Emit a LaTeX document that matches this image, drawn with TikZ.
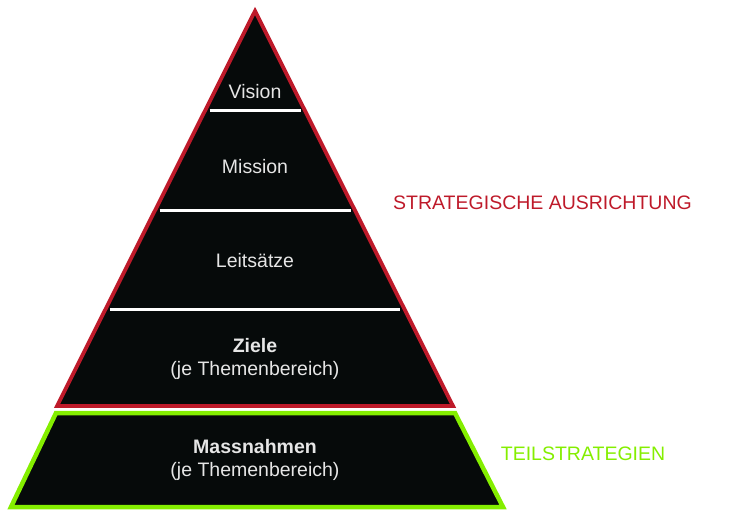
\documentclass[tikz,border=0pt]{standalone}
\usepackage{fontspec}
\setmainfont{Liberation Sans}
\definecolor{pyrred}{RGB}{190,26,42}
\definecolor{pyrgreen}{RGB}{132,238,0}
\definecolor{pyrfill}{RGB}{6,10,10}
\definecolor{pyrtext}{RGB}{230,230,230}
\begin{document}
\begin{tikzpicture}[x=1pt, y=-1pt, font=\fontsize{19.5}{23}\selectfont,
    tier/.style={text=pyrtext, anchor=base, inner sep=0pt},
    side/.style={anchor=base, inner sep=0pt},
    sepline/.style={white, line width=3pt}]
  \useasboundingbox (0,0) rectangle (747,511);
  % lower band, image coordinates (y down)
  \draw[pyrgreen, fill=pyrfill, line width=4.5pt] (56,413) -- (455,413) -- (503,507) -- (11,507) -- cycle;
  % upper triangle
  \draw[pyrred, fill=pyrfill, line width=3.8pt, line join=miter] (255,11) -- (453,406) -- (57,406) -- cycle;
  \foreach \y in {110,210,309} {
    \draw[sepline] ({255-0.5*(\y-11)+4},\y) -- ({255+0.5*(\y-11)-4},\y);
  }
  \node[tier] (vision) at (255,98) {Vision};
  \node[tier] (mission) at (255,173) {Mission};
  \node[tier] (leitsaetze) at (255,267) {Leitsätze};
  \node[tier] (ziele) at (255,352) {\textbf{Ziele}};
  \node[tier] (zieleje) at (255,375) {(je Themenbereich)};
  \node[tier] (massnahmen) at (255,453) {\textbf{Massnahmen}};
  \node[tier] (massnahmenje) at (255,476) {(je Themenbereich)};
  \node[side, text=pyrred] (ausrichtung) at (542.5,209) {STRATEGISCHE AUSRICHTUNG};
  \node[side, text=pyrgreen] (teilstrat) at (583,460) {TEILSTRATEGIEN};
\end{tikzpicture}
\end{document}
